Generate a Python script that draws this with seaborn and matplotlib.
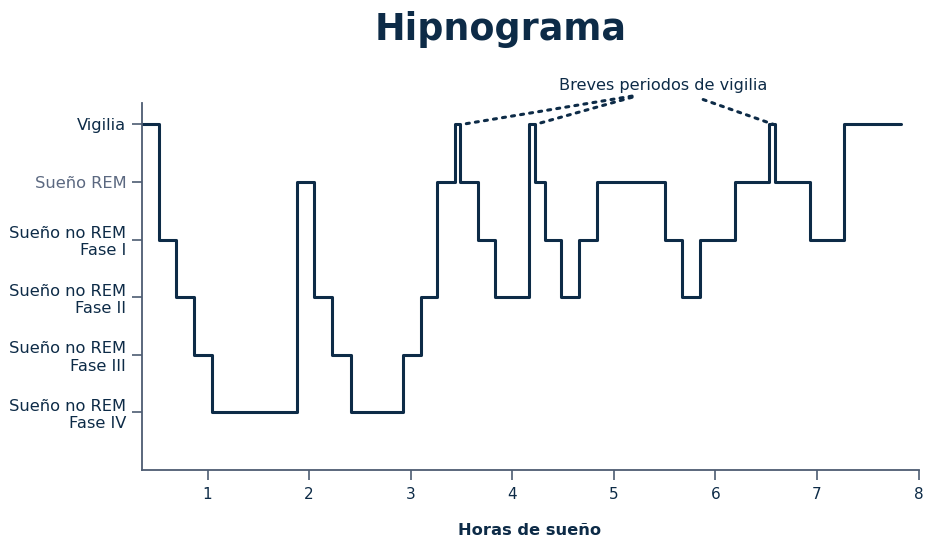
import matplotlib
matplotlib.use("Agg")
import matplotlib.pyplot as plt
import seaborn as sns
import pandas as pd

# --- data ---
stage_labels = ["Sueño no REM\nFase IV", "Sueño no REM\nFase III", "Sueño no REM\nFase II",
                "Sueño no REM\nFase I", "Sueño REM", "Vigilia"]
stage_levels = [0, 1, 2, 3, 4, 5]
hours = [0.35, 0.52, 0.69, 0.87, 1.04, 1.88, 2.05, 2.23, 2.41, 2.92, 3.10, 3.26, 3.44, 3.49,
         3.66, 3.83, 4.17, 4.22, 4.32, 4.48, 4.655, 4.83, 5.50, 5.67, 5.85, 6.19, 6.53, 6.585,
         6.93, 7.27, 7.83]
stage = [5, 3, 2, 1, 0, 4, 2, 1, 0, 1, 2, 4, 5, 4,
         3, 2, 5, 4, 3, 2, 3, 4, 3, 2, 3, 4, 5, 4,
         3, 5, 5]
x_ticks = [1, 2, 3, 4, 5, 6, 7, 8]
annot_text = "Breves periodos de vigilia"
annot_text_pos = (5.49, 5.68)
annot_starts = [(5.18, 5.49), (5.18, 5.47), (5.88, 5.43)]
annot_ends = [(3.51, 5.0), (4.23, 5.0), (6.57, 5.0)]

NAVY = "#0d2b47"
SPINE = "#4d5c72"
REMC = "#5b6880"

sns.set_theme(style="white")
plt.rcParams["font.family"] = ["DejaVu Sans"]

fig = plt.figure(figsize=(9.25, 5.37), dpi=100)
ax = fig.add_axes([141.5 / 925, 1 - 470 / 537, (918.5 - 141.5) / 925, (470 - 103) / 537])

df = pd.DataFrame({"Horas": hours, "Fase": stage})
sns.lineplot(data=df, x="Horas", y="Fase", ax=ax, drawstyle="steps-post",
             color=NAVY, linewidth=2.2, sort=False)

ax.set_xlim(0.35, 8.0)
ax.set_ylim(-1, 5.37)
ax.set_xticks(x_ticks)
ax.set_xticklabels([str(t) for t in x_ticks])
ax.set_yticks(stage_levels)
ax.set_yticklabels(stage_labels)
for lab in ax.get_yticklabels():
    lab.set_horizontalalignment("right")

ax.tick_params(axis="both", which="major", direction="out", length=7.5, width=1.2,
               color=SPINE, labelcolor=NAVY, bottom=True, left=True)
ax.tick_params(axis="y", labelsize=11.7, pad=3.5)
ax.tick_params(axis="x", labelsize=11, pad=5)
ax.get_yticklabels()[4].set_color(REMC)

for s in ["top", "right"]:
    ax.spines[s].set_visible(False)
for s in ["left", "bottom"]:
    ax.spines[s].set_color(SPINE)
    ax.spines[s].set_linewidth(1.3)

ax.set_ylabel("")
ax.set_xlabel("Horas de sueño", fontsize=11.7, fontweight="bold", color=NAVY, labelpad=15)

ax.text(annot_text_pos[0], annot_text_pos[1], annot_text, fontsize=11.6, color=NAVY,
        ha="center", va="center", clip_on=False)
for st, en in zip(annot_starts, annot_ends):
    ax.annotate("", xy=en, xytext=st, xycoords="data", textcoords="data",
                annotation_clip=False,
                arrowprops=dict(arrowstyle="-", linestyle=(0, (1, 2)), lw=2.2,
                                color=NAVY, shrinkA=0, shrinkB=0))

fig.text(501 / 925, 1 - 30 / 537, "Hipnograma", fontsize=26.3, fontweight="bold",
         color=NAVY, ha="center", va="center")

fig.savefig("out.png", dpi=100)
